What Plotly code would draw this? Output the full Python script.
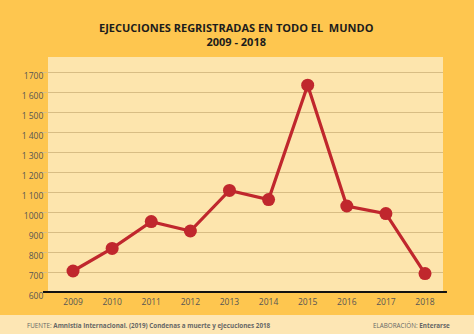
import plotly.graph_objects as go

years = [2009, 2010, 2011, 2012, 2013, 2014, 2015, 2016, 2017, 2018]
executions = [705, 818, 952, 905, 1108, 1062, 1634, 1030, 992, 692]
y_ticks = [600, 700, 800, 900, 1000, 1100, 1200, 1300, 1400, 1500, 1600, 1700]
y_ticktext = ["600", "700", "800", "900", "1000", "1 100", "1 200", "1 300", "1 400", "1 500", "1 600", "1700"]

OUTER = "#FEC64F"
PLOT_BG = "#FDE5AD"
FOOT = "#FDE6B4"
GRID = "#D8BD84"
RED = "#C0272D"

fig = go.Figure()
fig.add_trace(go.Scatter(
    x=years, y=executions, mode="lines+markers",
    line=dict(color=RED, width=3.2),
    marker=dict(color=RED, size=13),
    hoverinfo="skip", showlegend=False,
))

fig.update_layout(
    width=474, height=334,
    margin=dict(l=48, r=31, t=57, b=42),
    paper_bgcolor=OUTER, plot_bgcolor=PLOT_BG,
    font=dict(family="Open Sans", color="#555555", size=8),
    xaxis=dict(range=[2008.36, 2018.46], tickvals=years, showgrid=False,
               zeroline=False, showline=False, ticks="", ticklabelstandoff=3,
               tickfont=dict(size=8.5, color="#555")),
    yaxis=dict(range=[600, 1775], tickvals=y_ticks, ticktext=y_ticktext,
               showgrid=True, gridcolor=GRID, gridwidth=1.2, zeroline=False,
               showline=False, ticks="outside", ticklen=5, tickcolor=GRID, tickwidth=1.2,
               ticklabelshift=4, ticklabelstandoff=-3,
               tickfont=dict(size=8.5, color="#555")),
    shapes=[
        dict(type="rect", xref="paper", yref="paper", x0=-0.2, x1=1.2, y0=-0.098, y1=-0.2,
             fillcolor=FOOT, line=dict(width=0), layer="below"),
        dict(type="line", xref="paper", yref="paper", x0=-0.0127, x1=1.01, y0=0, y1=0,
             line=dict(color="#111111", width=2)),
    ],
    annotations=[
        dict(text="<b>EJECUCIONES REGRISTRADAS EN TODO EL  MUNDO<br>2009 - 2018</b>",
             xref="paper", yref="paper", x=0.478, y=1.094, xanchor="center", yanchor="middle",
             showarrow=False, font=dict(family="Open Sans", size=11, color="#1c1c1c")),
        dict(text="FUENTE: <b>Amnistía Internacional. (2019) Condenas a muerte y ejecuciones 2018</b>",
             xref="paper", yref="paper", x=-0.058, y=-0.142, xanchor="left", yanchor="middle",
             showarrow=False, font=dict(family="Open Sans", size=6.3, color="#666")),
        dict(text="ELABORACIÓN: <b>Enterarse</b>",
             xref="paper", yref="paper", x=1.023, y=-0.142, xanchor="right", yanchor="middle",
             showarrow=False, font=dict(family="Open Sans", size=6.3, color="#666")),
    ],
)

fig.write_html("out.html")
